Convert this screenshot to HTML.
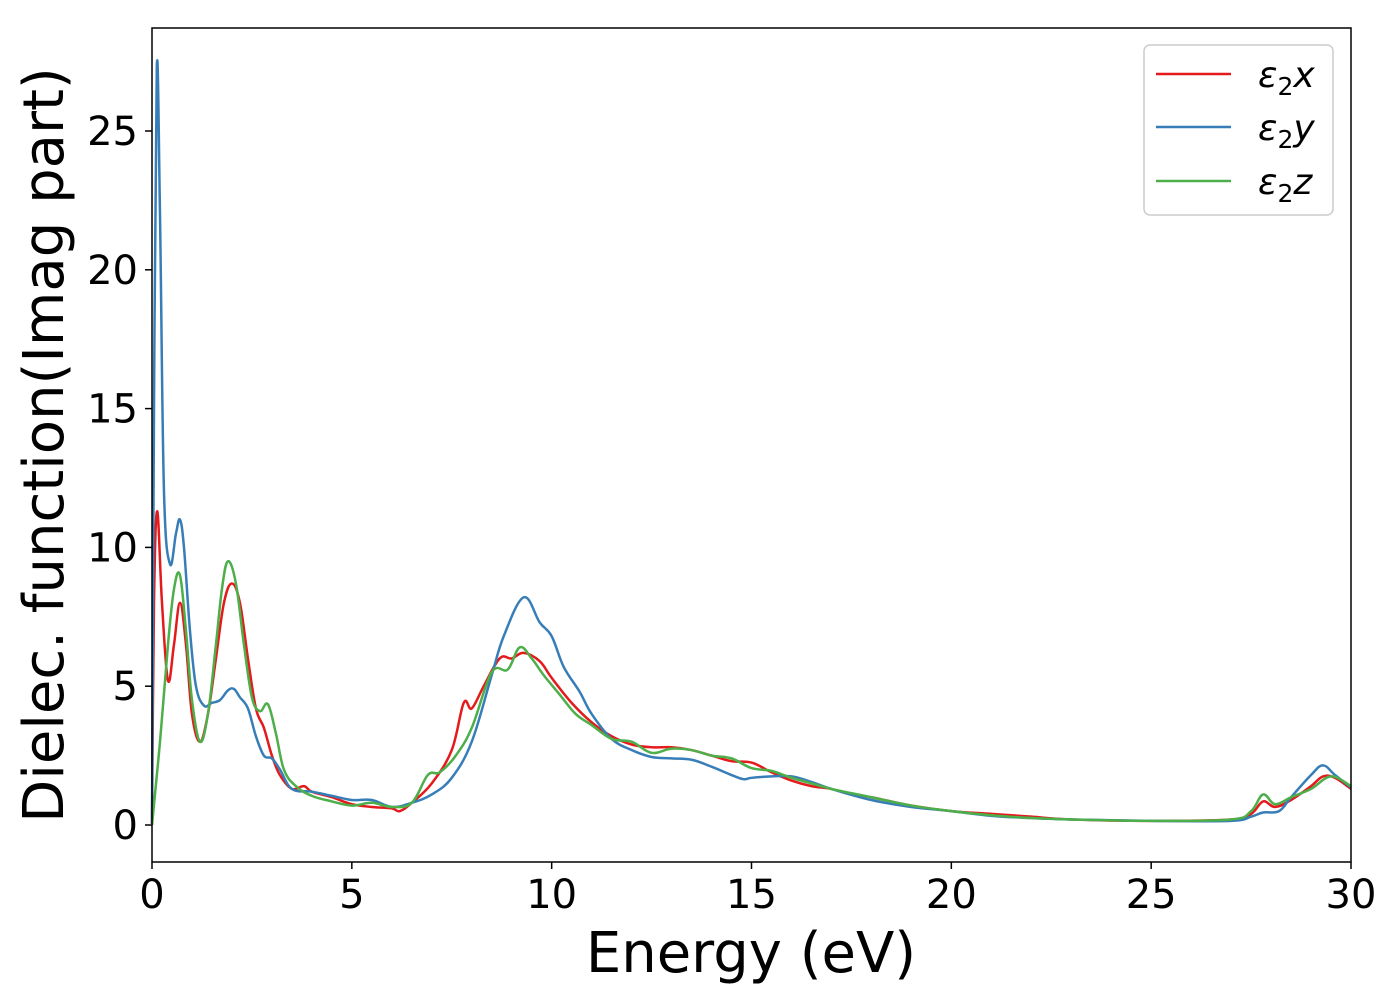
<!DOCTYPE html>
<html><head><meta charset="utf-8"><style>
body{margin:0;background:#fff;}
svg text{font-family:"DejaVu Sans","Liberation Sans",sans-serif;fill:#000;}
</style></head><body>
<svg id="chart" width="1400" height="1000" xmlns="http://www.w3.org/2000/svg">
<g id="ticks"></g>
<g id="series"></g>
<rect x="152" y="28" width="1199" height="834" fill="none" stroke="#000" stroke-width="1.5"/>
<text x="751" y="972" font-size="56" text-anchor="middle">Energy (eV)</text>
<text transform="translate(63,445) rotate(-90)" font-size="56" text-anchor="middle">Dielec. function(Imag part)</text>
<g>
<rect x="1144" y="45" width="189" height="170" rx="6" fill="#fff" stroke="#ccc" stroke-width="1.5"/>
<line x1="1156" y1="74" x2="1231" y2="74" stroke="#e41a1c" stroke-width="2.5"/>
<line x1="1156" y1="127" x2="1231" y2="127" stroke="#377eb8" stroke-width="2.5"/>
<line x1="1156" y1="181" x2="1231" y2="181" stroke="#4daf4a" stroke-width="2.5"/>
<text x="1258" y="87" font-size="36" font-style="italic">ε<tspan font-style="normal" font-size="25" dy="8">2</tspan><tspan dy="-8">x</tspan></text>
<text x="1258" y="140" font-size="36" font-style="italic">ε<tspan font-style="normal" font-size="25" dy="8">2</tspan><tspan dy="-8">y</tspan></text>
<text x="1258" y="194" font-size="36" font-style="italic">ε<tspan font-style="normal" font-size="25" dy="8">2</tspan><tspan dy="-8">z</tspan></text>
</g>
</svg>
<script>
const xTicks=[0,5,10,15,20,25,30];
const yTicks=[0,5,10,15,20,25];
const eX=[0,0.05,0.13,0.25,0.4,0.55,0.7,0.85,1.0,1.2,1.4,1.6,1.8,2.0,2.2,2.4,2.6,2.8,3.0,3.2,3.5,3.8,4.0,4.5,5.0,5.5,6.0,6.2,6.5,7.0,7.5,7.8,8.0,8.3,8.7,9.0,9.3,9.7,10.0,10.5,11.0,11.5,12.0,12.5,13.0,13.5,14.0,14.5,15.0,15.5,16.0,16.5,17.0,17.5,18,19,20,21,22,23,25,27,27.5,27.8,28.1,28.5,29.0,29.3,29.6,30];
const vX=[0,8,11.3,8,5.2,6.5,8.0,6.5,4.0,3.0,4.0,6.0,8.0,8.7,8.0,6.0,4.2,3.5,2.5,1.8,1.3,1.4,1.2,1.0,0.75,0.65,0.6,0.5,0.8,1.5,2.7,4.4,4.2,5.0,6.0,6.0,6.2,5.9,5.3,4.4,3.7,3.2,2.9,2.8,2.8,2.7,2.5,2.3,2.25,1.9,1.6,1.4,1.3,1.1,1.0,0.7,0.5,0.4,0.3,0.2,0.15,0.2,0.4,0.85,0.65,0.9,1.4,1.75,1.7,1.3];
const eY=[0,0.05,0.12,0.2,0.3,0.45,0.6,0.7,0.8,0.95,1.1,1.3,1.5,1.7,1.9,2.05,2.2,2.4,2.6,2.8,3.0,3.2,3.5,4.0,4.5,5.0,5.5,6.0,6.5,7.0,7.5,8.0,8.5,8.8,9.3,9.7,10.0,10.3,10.7,11.0,11.5,12.0,12.5,13.0,13.5,14.0,14.5,14.8,15.0,15.5,16.0,16.5,17,18,19,20,21,22,23,25,27,27.5,27.8,28.2,28.5,29.0,29.3,29.6,30];
const vY=[0,15,27.3,22,12,9.4,10.5,11.0,10,7,5,4.3,4.4,4.5,4.85,4.9,4.6,4.2,3.2,2.5,2.4,2.0,1.3,1.2,1.05,0.9,0.9,0.65,0.8,1.1,1.7,3.0,5.4,6.8,8.2,7.3,6.8,5.7,4.8,4.0,3.1,2.7,2.45,2.4,2.35,2.1,1.8,1.65,1.7,1.75,1.75,1.55,1.3,0.9,0.65,0.5,0.33,0.25,0.2,0.15,0.15,0.3,0.45,0.5,1.0,1.8,2.15,1.8,1.35];
const eZ=[0,0.2,0.4,0.55,0.7,0.85,1.0,1.2,1.4,1.6,1.75,1.9,2.1,2.3,2.5,2.7,2.9,3.1,3.3,3.6,4.0,4.5,5.0,5.5,6.0,6.5,6.9,7.2,7.6,8.0,8.5,8.9,9.2,9.5,9.8,10.2,10.6,11.0,11.5,12.0,12.5,13.0,13.5,14.0,14.5,15.0,15.5,16,16.5,17,18,19,20,21,22,23,25,27,27.5,27.8,28.1,28.5,29.0,29.5,30];
const vZ=[0,3,6.5,8.5,9.0,7,4.5,3.0,4.0,6.5,8.5,9.5,8.7,6.5,4.6,4.1,4.35,3.3,2.0,1.4,1.05,0.85,0.7,0.8,0.65,0.8,1.8,1.9,2.5,3.5,5.5,5.6,6.4,6.0,5.4,4.7,4.0,3.6,3.1,3.0,2.6,2.75,2.7,2.5,2.4,2.05,1.95,1.7,1.5,1.3,1.0,0.7,0.5,0.35,0.25,0.2,0.15,0.2,0.5,1.1,0.75,1.0,1.3,1.75,1.4];
const X0=152,X1=1351,XMIN=0,XMAX=30,Y0PX=825,YPER=27.76;
function sx(e){return X0+(e-XMIN)/(XMAX-XMIN)*(X1-X0);}
function sy(v){return Y0PX-v*YPER;}
const NS='http://www.w3.org/2000/svg';
const tg=document.getElementById('ticks');
xTicks.forEach(t=>{
 const l=document.createElementNS(NS,'line');
 
 
 l.setAttribute('x1',sx(t));l.setAttribute('x2',sx(t));l.setAttribute('y1',862);l.setAttribute('y2',869);l.setAttribute('stroke','#000');l.setAttribute('stroke-width','1.5');tg.appendChild(l);
 const tx=document.createElementNS(NS,'text');
 
 
 tx.setAttribute('x',sx(t));tx.setAttribute('y',908);tx.setAttribute('font-size','40');tx.setAttribute('text-anchor','middle');tx.textContent=t;tg.appendChild(tx);
});
yTicks.forEach(t=>{
 const l=document.createElementNS(NS,'line');
 
 
 l.setAttribute('x1',145);l.setAttribute('x2',152);l.setAttribute('y1',sy(t));l.setAttribute('y2',sy(t));l.setAttribute('stroke','#000');l.setAttribute('stroke-width','1.5');tg.appendChild(l);
 const tx=document.createElementNS(NS,'text');
 
 
 tx.setAttribute('x',138);tx.setAttribute('y',sy(t)+14);tx.setAttribute('font-size','40');tx.setAttribute('text-anchor','end');tx.textContent=t;tg.appendChild(tx);
});
function pathFor(es,vs){
 const p=es.map((e,i)=>[sx(e),sy(vs[i])]);
 let d='M'+p[0][0]+','+p[0][1];
 for(let i=0;i<p.length-1;i++){
  const a=p[Math.max(0,i-1)],b=p[i],c=p[i+1],dd=p[Math.min(p.length-1,i+2)];
  const t=0.18;
  d+=' C'+(b[0]+(c[0]-a[0])*t)+','+(b[1]+(c[1]-a[1])*t)+' '+(c[0]-(dd[0]-b[0])*t)+','+(c[1]-(dd[1]-b[1])*t)+' '+c[0]+','+c[1];
 }
 return d;
}
const sg=document.getElementById('series');
[[eX,vX,'#e41a1c','series-eps2-x'],[eY,vY,'#377eb8','series-eps2-y'],[eZ,vZ,'#4daf4a','series-eps2-z']].forEach(s=>{
 const p=document.createElementNS(NS,'path');
 
 
 p.setAttribute('d',pathFor(s[0],s[1]));p.setAttribute('fill','none');p.setAttribute('stroke',s[2]);p.setAttribute('stroke-width','2.5');p.setAttribute('stroke-linejoin','round');
 sg.appendChild(p);
});
</script>
</body></html>
